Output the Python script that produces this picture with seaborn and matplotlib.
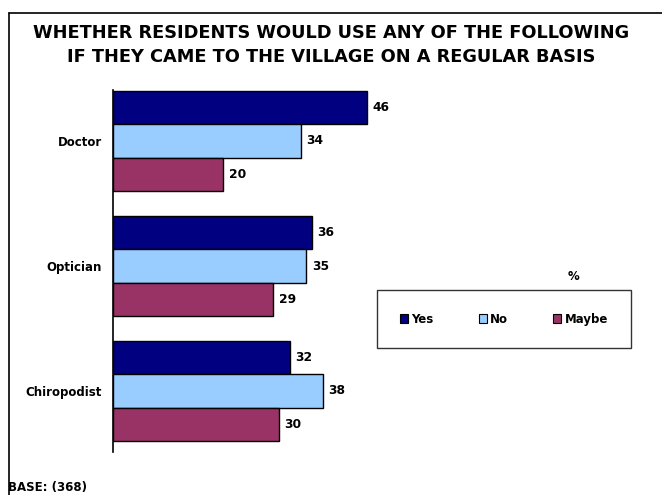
import matplotlib
matplotlib.use("Agg")
import matplotlib.pyplot as plt
from matplotlib.lines import Line2D
from matplotlib.patches import Patch
import seaborn as sns
import pandas as pd

categories = ["Doctor", "Optician", "Chiropodist"]
series = ["Yes", "No", "Maybe"]
yes_vals = [46, 36, 32]
no_vals = [34, 35, 38]
maybe_vals = [20, 29, 30]
colors = ["#000080", "#99CCFF", "#993366"]

rows = []
for s, vals in zip(series, [yes_vals, no_vals, maybe_vals]):
    for c, v in zip(categories, vals):
        rows.append({"category": c, "series": s, "value": v})
df = pd.DataFrame(rows)

sns.set_style("white")
plt.rcParams["font.family"] = ["DejaVu Sans"]
plt.rcParams["text.color"] = "black"
plt.rcParams["ytick.color"] = "black"
plt.rcParams["ytick.labelcolor"] = "black"

W, H = 662, 495
fig = plt.figure(figsize=(W / 100, H / 100), dpi=100)
ax = fig.add_axes([113 / W, 1 - 452 / H, 497 / W, 362 / H])

sns.barplot(data=df, y="category", x="value", hue="series", order=categories,
            hue_order=series, palette=colors, orient="h", ax=ax,
            edgecolor="black", linewidth=1.0, saturation=1, legend=False, width=0.8)

ax.set_xlim(0, 90)
ax.set_ylim(2.488, -0.408)
ax.set_xlabel("")
ax.set_ylabel("")
ax.set_xticks([])
for sp in ["top", "right", "bottom"]:
    ax.spines[sp].set_visible(False)
ax.spines["left"].set_color("black")
ax.spines["left"].set_linewidth(1.2)
ax.tick_params(axis="y", length=0, pad=8, labelcolor="black")
for t in ax.get_yticklabels():
    t.set_fontweight("bold")
    t.set_fontsize(8.5)
    t.set_color("black")

for cont in ax.containers:
    ax.bar_label(cont, fmt="%d", padding=4, fontsize=8.8, fontweight="bold",
                 color="black")

# Title
fig.text(0.5, 1 - 33 / H, "WHETHER RESIDENTS WOULD USE ANY OF THE FOLLOWING",
         ha="center", va="center", fontsize=12.8, fontweight="bold", color="black")
fig.text(0.5, 1 - 57 / H, "IF THEY CAME TO THE VILLAGE ON A REGULAR BASIS",
         ha="center", va="center", fontsize=12.8, fontweight="bold", color="black")

# Frame
fig.add_artist(Line2D([9 / W, 9 / W], [0, 1 - 13 / H], transform=fig.transFigure,
                      color="black", linewidth=1.2))
fig.add_artist(Line2D([9 / W, 1], [1 - 13 / H, 1 - 13 / H], transform=fig.transFigure,
                      color="black", linewidth=1.2))

# Legend
handles = [Patch(facecolor=c, edgecolor="black", linewidth=0.8) for c in colors]
leg = fig.legend(handles, series, ncol=3, loc="center",
                 bbox_to_anchor=(504 / W, 1 - 319 / H),
                 frameon=True, fancybox=False, edgecolor="black",
                 handlelength=0.7, handleheight=0.7, handletextpad=0.3,
                 columnspacing=3.8, borderpad=1.9,
                 prop={"weight": "bold", "size": 8.5})
leg.get_frame().set_linewidth(1.0)
for t in leg.get_texts():
    t.set_color("black")
fig.text(573 / W, 1 - 276 / H, "%", ha="center", va="center",
         fontsize=8.5, fontweight="bold", color="black")

fig.text(8 / W, 1 - 487 / H, "BASE: (368)", ha="left", va="center",
         fontsize=8.5, fontweight="bold", color="black")

fig.savefig("out.png", dpi=100)
